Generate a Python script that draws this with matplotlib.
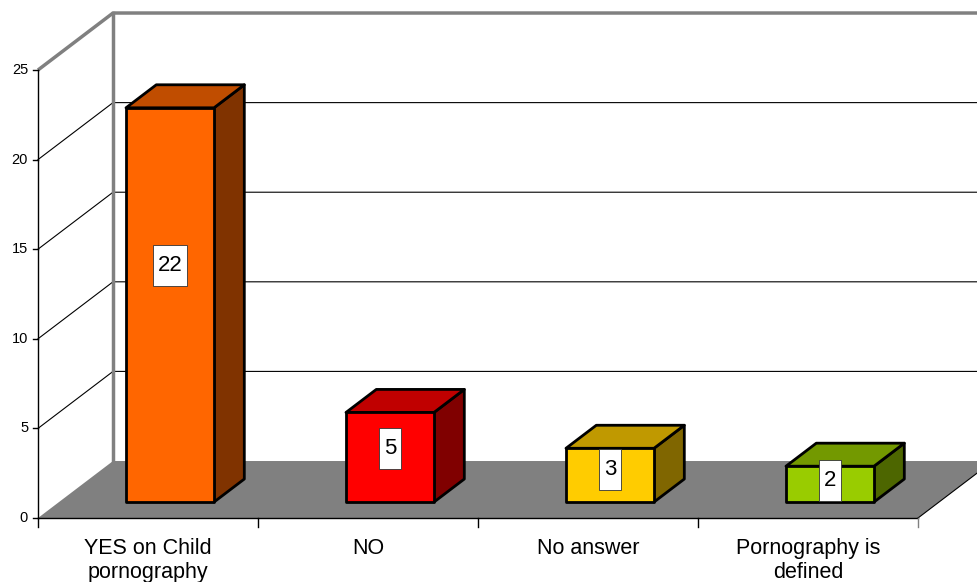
import matplotlib.pyplot as plt
from matplotlib.patches import Polygon, Rectangle

plt.rcParams['font.family'] = ['Liberation Sans', 'DejaVu Sans']

categories = ['YES on Child\npornography', 'NO', 'No answer', 'Pornography is\ndefined']
counts = [22, 5, 3, 2]
front_colors = ['#FF6600', '#FF0000', '#FFCC00', '#99CC00']
top_colors = ['#C04D00', '#C00000', '#C09900', '#739900']
side_colors = ['#803300', '#800000', '#806600', '#4D6600']
y_ticks = [0, 5, 10, 15, 20, 25]

# depth of the 3d box, in data units (x: categories, y: values)
DX, DY = 0.341, 3.18
# bars sit between these depth fractions
D_FRONT, D_BACK = 0.28, 0.684
BAR_LEFT, BAR_W = 0.4, 0.4
YMAX = 25
XMAX = len(categories)

fig = plt.figure(figsize=(9.78, 5.82), dpi=100)
ax = fig.add_axes([38 / 978, 64 / 582, 880 / 978, 448 / 582])
ax.set_xlim(0, XMAX)
ax.set_ylim(0, YMAX)
ax.axis('off')

wall = '#808080'

# floor
floor = Polygon([(0, 0), (XMAX, 0), (XMAX + DX, DY), (DX, DY)],
                closed=True, facecolor='#808080', edgecolor='none',
                clip_on=False, zorder=1)
ax.add_patch(floor)
ax.plot([XMAX, XMAX + DX], [0, DY], color='black', lw=0.8,
        clip_on=False, zorder=2)

# gridlines on side wall and back wall
for t in y_ticks[1:-1]:
    ax.plot([0, DX, XMAX + DX], [t, t + DY, t + DY], color='black', lw=0.8,
            clip_on=False, zorder=1)

# wall frame
ax.plot([0, DX, XMAX + DX], [YMAX, YMAX + DY, YMAX + DY], color=wall, lw=2.5,
        clip_on=False, zorder=1, solid_capstyle='butt')
ax.plot([DX, DX], [DY, YMAX + DY], color=wall, lw=2.5, clip_on=False, zorder=1)

# value axis
ax.plot([0, 0], [0, YMAX], color='black', lw=1, clip_on=False, zorder=3)
for t in y_ticks:
    ax.plot([-0.022, 0], [t, t], color='black', lw=1, clip_on=False, zorder=3)
    ax.text(-0.045, t, str(t), ha='right', va='center', fontsize=10.5)

# category axis
ax.plot([0, XMAX], [0, 0], color='black', lw=1, clip_on=False, zorder=3)
for i in range(XMAX + 1):
    ax.plot([i, i], [0, -0.5], color=wall if i == XMAX else 'black', lw=1,
            clip_on=False, zorder=3)
for i, c in enumerate(categories):
    ax.text(i + 0.5, -1.1, c, ha='center', va='top', fontsize=15.5,
            linespacing=1.2)

# 3d bars
fy = D_FRONT * DY
bx, by = (D_BACK - D_FRONT) * DX, (D_BACK - D_FRONT) * DY
labels = []
for i, v in enumerate(counts):
    x0 = i + BAR_LEFT
    x1 = x0 + BAR_W
    y0 = fy
    y1 = fy + v
    kw = dict(closed=True, edgecolor='black', lw=2, joinstyle='round',
              clip_on=False, zorder=4)
    ax.add_patch(Polygon([(x1, y0), (x1 + bx, y0 + by), (x1 + bx, y1 + by), (x1, y1)],
                         facecolor=side_colors[i], **kw))
    ax.add_patch(Polygon([(x0, y1), (x1, y1), (x1 + bx, y1 + by), (x0 + bx, y1 + by)],
                         facecolor=top_colors[i], **kw))
    ax.add_patch(Polygon([(x0, y0), (x1, y0), (x1, y1), (x0, y1)],
                         facecolor=front_colors[i], **kw))
    labels.append(ax.text(x0 + BAR_W / 2, y0 + 0.6 * v, str(v), ha='center',
                          va='center', fontsize=16, zorder=6))

# white boxes behind the value labels, taller than a plain bbox
fig.canvas.draw()
inv = ax.transData.inverted()
for t in labels:
    bb = t.get_window_extent()
    cx, cy = (bb.x0 + bb.x1) / 2, (bb.y0 + bb.y1) / 2
    w, h = bb.width + 10, 41
    (ax0, ay0), (ax1, ay1) = inv.transform([(cx - w / 2, cy - h / 2),
                                            (cx + w / 2, cy + h / 2)])
    ax.add_patch(Rectangle((ax0, ay0), ax1 - ax0, ay1 - ay0, facecolor='white',
                           edgecolor='#333333', lw=0.6, zorder=5, clip_on=False))

fig.savefig('out.png', dpi=100)
